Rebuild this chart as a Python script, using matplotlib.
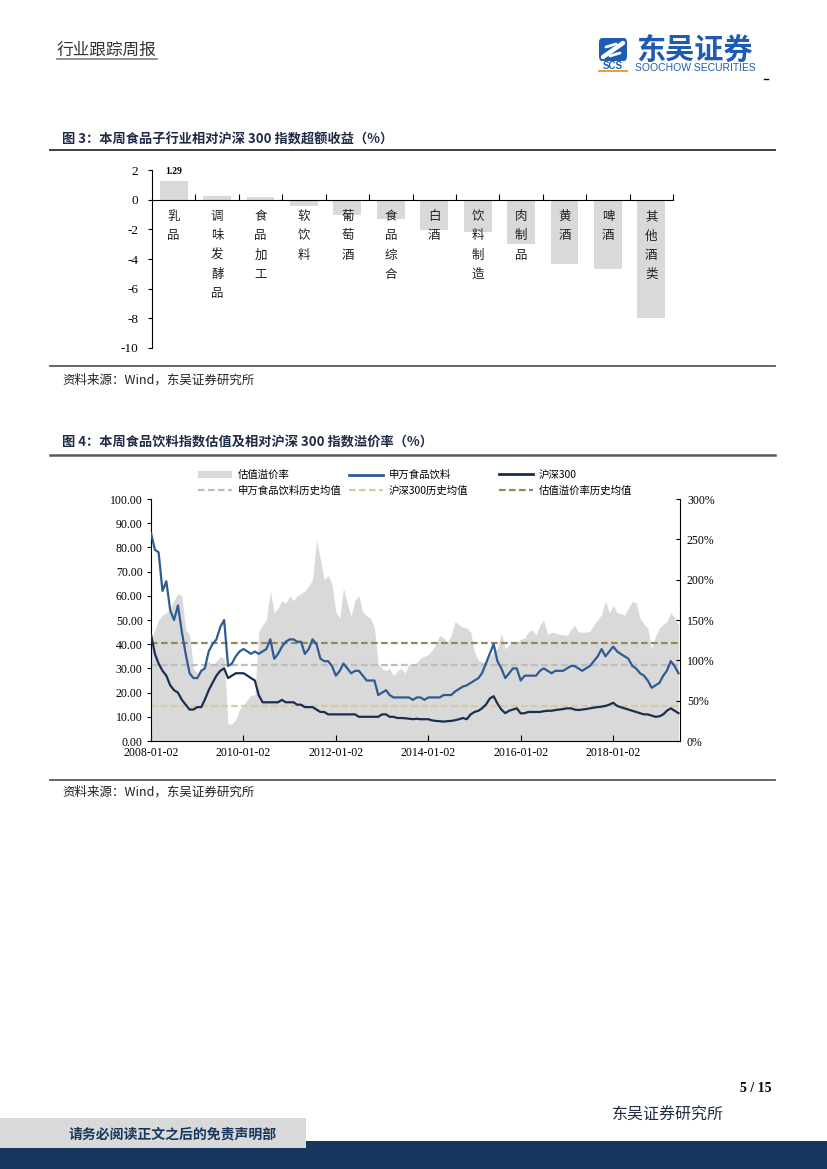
import matplotlib
matplotlib.use('Agg')
import matplotlib.pyplot as plt
import matplotlib.dates as mdates
from matplotlib.lines import Line2D
from matplotlib.patches import Rectangle, Patch, FancyBboxPatch
from matplotlib.ticker import FuncFormatter, FormatStrFormatter
import numpy as np
import pandas as pd

# ---------------- data ----------------
# Figure 3: sub-industry excess return vs CSI300 (%)
sub_industries = ['乳品', '调味发酵品', '食品加工', '软饮料', '葡萄酒', '食品综合',
                  '白酒', '饮料制造', '肉制品', '黄酒', '啤酒', '其他酒类']
excess_returns = [1.29, 0.25, 0.15, -0.40, -1.00, -1.30,
                  -2.05, -2.15, -3.00, -4.35, -4.70, -8.00]

# Figure 4: monthly readings, 2008-01 .. 2019-06
start_date = '2008-01-02'
sw_food_pe = [86, 79, 78, 62, 66, 54, 50, 56, 45, 36, 28, 26,
              26, 29, 30, 37, 40, 42, 47, 50, 31, 32, 35, 37,
              38, 37, 36, 37, 36, 37, 38, 42, 34, 36, 39, 41,
              42, 42, 41, 41, 36, 38, 42, 40, 34, 33, 33, 31,
              27, 29, 32, 30, 28, 29, 29, 27, 25, 25, 25, 19,
              20, 21, 19, 18, 18, 18, 18, 18, 17, 18, 18, 17,
              18, 18, 18, 18, 19, 19, 19, 20.5, 21.5, 22.5, 23, 24,
              25, 26, 28, 32, 36, 40, 33, 30, 26, 28, 30, 30,
              25, 27, 27, 27, 27, 29, 30, 29, 28, 29, 29, 29,
              30, 31, 31, 30, 29, 30, 31, 33, 35, 38, 35, 37,
              39, 37, 36, 35, 34, 31, 30, 28, 27, 25, 22, 23,
              24, 27, 29, 33, 31, 28]
hs300_pe = [44, 36, 32, 29, 27, 23, 21, 20, 17, 15, 13, 13,
            14, 14, 17, 21, 24, 27, 29, 30, 26, 27, 28, 28,
            28, 27, 26, 25, 19, 16, 16, 16, 16, 16, 17, 16,
            16, 16, 15, 15, 14, 14, 14, 13, 12, 12, 11, 11,
            11, 11, 11, 11, 11, 11, 10, 10, 10, 10, 10, 10,
            11, 11, 10, 10, 9.5, 9.5, 9.4, 9.2, 9, 9.2, 9, 9,
            9, 8.5, 8.3, 8.2, 8, 8.2, 8.3, 8.6, 9, 9.5, 9, 11,
            12, 12.5, 13.5, 15, 17.5, 18.5, 15.5, 13, 11.5, 12.5, 13, 13.5,
            11.4, 11.5, 12, 12, 12, 12, 12.3, 12.5, 12.5, 12.8, 13, 13.2,
            13.5, 13.5, 13, 12.8, 13, 13.2, 13.5, 13.8, 14, 14.2, 14.5, 15,
            15.8, 14.5, 14, 13.5, 13, 12.5, 12, 11.5, 11, 11, 10.5, 10,
            10.2, 11, 12.5, 13.5, 12.5, 11.5]
premium_pct = [126, 138, 150, 156, 159, 165, 174, 183, 180, 138, 132, 90,
               84, 87, 96, 99, 93, 99, 105, 102, 21, 21, 27, 39,
               45, 51, 57, 57, 135, 144, 150, 186, 159, 165, 174, 171,
               180, 174, 180, 183, 186, 192, 200, 249, 225, 200, 205, 195,
               160, 152, 190, 170, 155, 175, 180, 160, 155, 152, 140, 95,
               90, 87, 90, 81, 87, 90, 84, 95, 93, 97, 103, 105,
               107, 113, 120, 131, 128, 123, 131, 148, 144, 141, 140, 135,
               111, 100, 98, 98, 105, 111, 115, 134, 114, 120, 122, 123,
               126, 128, 135, 138, 131, 144, 150, 132, 135, 134, 132, 132,
               131, 138, 144, 135, 135, 135, 136, 144, 150, 157, 173, 159,
               168, 159, 158, 156, 165, 173, 171, 152, 145, 140, 114, 130,
               140, 145, 148, 159, 153, 144]
sw_avg = 31.5
hs300_avg = 14.4
premium_avg = 121
date_ticks = ['2008-01-02', '2010-01-02', '2012-01-02', '2014-01-02', '2016-01-02', '2018-01-02']

# ---------------- page setup ----------------
W, H = 827, 1169
def fx(x): return x / W
def fy(y): return 1 - y / H

plt.rcParams['font.family'] = ['Noto Sans CJK SC', 'DejaVu Sans']
plt.rcParams['axes.unicode_minus'] = False
SERIF = ['Liberation Serif', 'DejaVu Serif']
NAVY = '#17375E'
TITLE_C = '#1F2A44'

fig = plt.figure(figsize=(8.27, 11.69), dpi=100)

def hline(y, x0=50, x1=775, color='#404040', lw=1.4):
    fig.add_artist(Line2D([fx(x0), fx(x1)], [fy(y), fy(y)], color=color, lw=lw))

# header
fig.text(fx(57), fy(50), '行业跟踪周报', fontsize=12, va='center', ha='left', color='#333333')
fig.add_artist(Line2D([fx(57), fx(157)], [fy(59), fy(59)], color='#808080', lw=1.2))

# logo
LOGO_BLUE = '#1E5CB3'
fig.add_artist(FancyBboxPatch((fx(599), fy(61)), fx(28), 23 / H,
                              boxstyle='round,pad=0.0,rounding_size=0.004',
                              facecolor=LOGO_BLUE, edgecolor='none'))
fig.add_artist(Line2D([fx(603), fx(623)], [fy(57), fy(43)], color='white', lw=3.2,
                      solid_capstyle='round'))
fig.add_artist(Line2D([fx(606), fx(616)], [fy(47), fy(44)], color='white', lw=2.0,
                      solid_capstyle='round'))
fig.add_artist(Line2D([fx(610), fx(620)], [fy(56), fy(53)], color='white', lw=2.0,
                      solid_capstyle='round'))
fig.text(fx(613), fy(66), 'SCS', fontsize=7, weight='bold', color=LOGO_BLUE,
         ha='center', va='center', family='Liberation Sans')
fig.add_artist(Rectangle((fx(598), fy(72)), fx(30), 2 / H, facecolor='#F0A030', edgecolor='none'))
fig.text(fx(695), fy(50), '东吴证券', fontsize=21, weight='bold', color=LOGO_BLUE,
         ha='center', va='center')
fig.text(fx(695), fy(68), 'SOOCHOW SECURITIES', fontsize=7.5, color=LOGO_BLUE,
         ha='center', va='center', family='Liberation Sans')
fig.add_artist(Line2D([fx(764), fx(768)], [fy(79), fy(79)], color='black', lw=1))

# ---------------- Figure 3 ----------------
fig.text(fx(62), fy(140), '图 3：本周食品子行业相对沪深 300 指数超额收益（%）', fontsize=9.5,
         weight='bold', color=TITLE_C, va='center', ha='left')
hline(150)

ax3 = fig.add_axes([fx(152), fy(348), (673 - 152) / W, (348 - 170) / H])
xpos = np.arange(len(sub_industries))
ax3.bar(xpos, excess_returns, width=0.64, color='#D9D9D9', zorder=2)
ax3.set_xlim(-0.5, len(sub_industries) - 0.5)
ax3.set_ylim(-10, 2)
ax3.set_yticks(np.arange(-10, 3, 2))
ax3.spines['top'].set_visible(False)
ax3.spines['right'].set_visible(False)
ax3.spines['bottom'].set_position(('data', 0))
for s in ('left', 'bottom'):
    ax3.spines[s].set_linewidth(0.8)
ax3.set_xticks(np.arange(0.5, len(sub_industries), 1))
ax3.tick_params(axis='x', direction='in', length=4, width=0.8, labelbottom=False)
ax3.tick_params(axis='y', direction='out', length=3, width=0.8, labelsize=9.5, pad=7)
for lab in ax3.get_yticklabels():
    lab.set_fontfamily(SERIF)
for i, name in enumerate(sub_industries):
    for j, ch in enumerate(name):
        ax3.annotate(ch, xy=(i, 0), xytext=(0, -12.2 - 13.9 * j), textcoords='offset points',
                     ha='center', va='center', fontsize=9, color='#222222')
ax3.annotate(f'{excess_returns[0]:.2f}', xy=(0, excess_returns[0]), xytext=(0, 3),
             textcoords='offset points', ha='center', va='bottom', fontsize=7,
             weight='bold', family=SERIF)

hline(366, color='#595959', lw=1.3)
fig.text(fx(62), fy(380), '资料来源：Wind，东吴证券研究所', fontsize=9, va='center', ha='left',
         color='#222222')

# ---------------- Figure 4 ----------------
fig.text(fx(62), fy(442), '图 4：本周食品饮料指数估值及相对沪深 300 指数溢价率（%）', fontsize=9.5,
         weight='bold', color=TITLE_C, va='center', ha='left')
hline(455, color='#595959', lw=1.8)

dates = pd.date_range(start_date, periods=len(sw_food_pe), freq=pd.DateOffset(months=1))

C_SW = '#2F5B93'
C_HS = '#1A2F50'
C_PREM = '#D9D9D9'
C_SWAVG = '#BDBDBD'
C_HSAVG = '#D8C99E'
C_PAVG = '#938953'
DASH = (0, (3, 1.5))

ax4 = fig.add_axes([fx(151), fy(741), (680 - 151) / W, (741 - 499) / H])
ax4r = ax4.twinx()
ax4r.fill_between(dates, 0, premium_pct, color=C_PREM, lw=0, zorder=1)
ax4r.axhline(premium_avg, color=C_PAVG, ls=DASH, lw=1.6, zorder=3)
ax4.axhline(sw_avg, color=C_SWAVG, ls=DASH, lw=1.6, zorder=2)
ax4.axhline(hs300_avg, color=C_HSAVG, ls=DASH, lw=1.6, zorder=2)
ax4.plot(dates, sw_food_pe, color=C_SW, lw=1.6, zorder=4)
ax4.plot(dates, hs300_pe, color=C_HS, lw=1.6, zorder=4)
ax4.set_zorder(ax4r.get_zorder() + 1)
ax4.patch.set_visible(False)

ax4.set_xlim(pd.Timestamp('2008-01-02'), pd.Timestamp('2019-06-14'))
ax4.set_ylim(0, 100)
ax4r.set_ylim(0, 300)
ax4.set_xticks(pd.to_datetime(date_ticks))
ax4.xaxis.set_major_formatter(mdates.DateFormatter('%Y-%m-%d'))
ax4.set_yticks(np.arange(0, 101, 10))
ax4.yaxis.set_major_formatter(FormatStrFormatter('%.2f'))
ax4r.set_yticks(np.arange(0, 301, 50))
ax4r.yaxis.set_major_formatter(FuncFormatter(lambda v, p: f'{v:.0f}%'))
for a in (ax4, ax4r):
    a.spines['top'].set_visible(False)
    for s in a.spines.values():
        s.set_linewidth(0.8)
ax4r.spines['left'].set_visible(False)
ax4r.spines['bottom'].set_visible(False)
ax4.spines['right'].set_visible(False)
ax4.tick_params(axis='x', direction='in', length=4, width=0.8, labelsize=8.5, pad=4)
ax4.tick_params(axis='y', direction='out', length=3, width=0.8, labelsize=8.5, pad=3)
ax4r.tick_params(axis='y', direction='in', length=3, width=0.8, labelsize=8.5, pad=5)
for lab in ax4.get_xticklabels() + ax4.get_yticklabels() + ax4r.get_yticklabels():
    lab.set_fontfamily(SERIF)

# legend (three columns, two rows)
legend_cols = [
    ([Patch(facecolor=C_PREM, edgecolor='none'),
      Line2D([], [], color=C_SWAVG, ls=DASH, lw=1.6)], ['估值溢价率', '申万食品饮料历史均值'], 198),
    ([Line2D([], [], color=C_SW, lw=2),
      Line2D([], [], color=C_HSAVG, ls=DASH, lw=1.6)], ['申万食品饮料', '沪深300历史均值'], 349),
    ([Line2D([], [], color=C_HS, lw=2),
      Line2D([], [], color=C_PAVG, ls=DASH, lw=1.6)], ['沪深300', '估值溢价率历史均值'], 499),
]
for handles, labels, xl in legend_cols:
    fig.legend(handles, labels, loc='upper left', bbox_to_anchor=(fx(xl), fy(470)),
               frameon=False, fontsize=7.5, handlelength=3.3, handletextpad=0.5,
               labelspacing=0.55, borderpad=0, borderaxespad=0)

hline(780, color='#595959', lw=1.3)
fig.text(fx(62), fy(792), '资料来源：Wind，东吴证券研究所', fontsize=9, va='center', ha='left',
         color='#222222')

# ---------------- footer ----------------
fig.text(fx(771), fy(1088), '5 / 15', ha='right', va='center', fontsize=10, weight='bold',
         family=SERIF)
fig.text(fx(612), fy(1115), '东吴证券研究所', ha='left', va='center', fontsize=11.5,
         color=TITLE_C)
fig.add_artist(Rectangle((0, 0), 1, (1169 - 1141) / H, facecolor=NAVY, edgecolor='none'))
fig.add_artist(Rectangle((0, fy(1148)), fx(306), 30 / H, facecolor='#D9D9D9', edgecolor='none'))
fig.text(fx(69), fy(1134), '请务必阅读正文之后的免责声明部', ha='left', va='center', fontsize=10,
         weight='bold', color=NAVY)

fig.savefig('out.png', dpi=100)
